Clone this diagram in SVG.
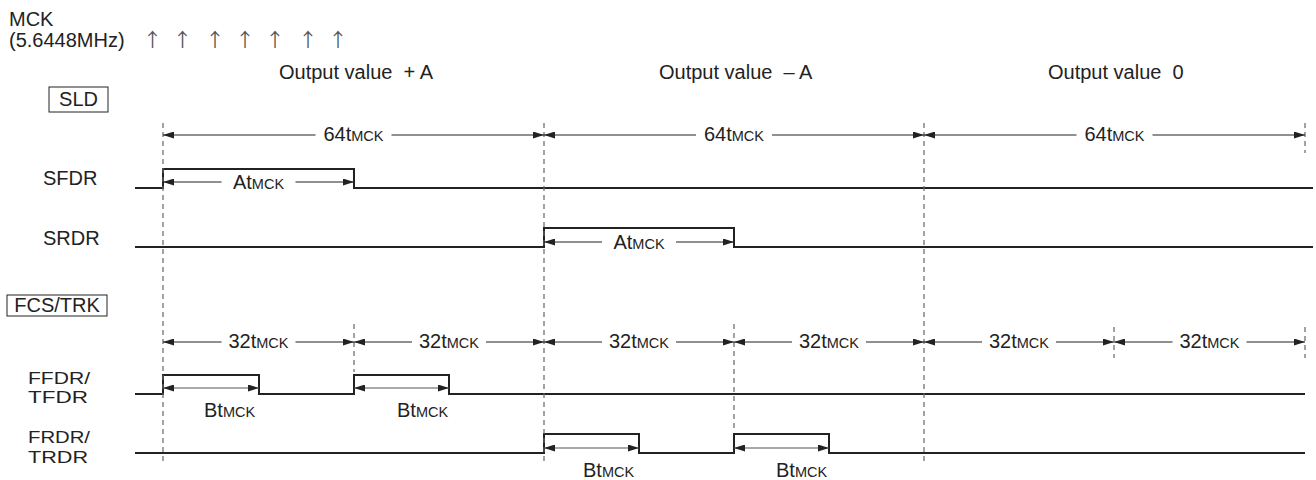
<svg xmlns="http://www.w3.org/2000/svg" width="1316" height="480" viewBox="0 0 1316 480">
<style>
text{font-family:"Liberation Sans",Arial,sans-serif;font-size:20px;fill:#222}
.s{font-size:14.5px}
.m{text-anchor:middle}
.lb{font-size:16.5px}
.up{font-family:"Noto Sans CJK JP","DejaVu Sans",sans-serif;font-size:19px;fill:#555;text-anchor:middle}
.sig{fill:none;stroke:#222;stroke-width:2}
.dash{stroke:#666;stroke-width:1.2;stroke-dasharray:5,4}
.dim{stroke:#222;stroke-width:1.1;marker-end:url(#ah)}
.bt{stroke:#555;stroke-width:1.1;marker-end:url(#ah);marker-start:url(#ah)}
.box{fill:none;stroke:#222;stroke-width:1}
</style>
<defs>
<marker id="ah" markerUnits="userSpaceOnUse" markerWidth="11" markerHeight="7" refX="11" refY="3.5" orient="auto-start-reverse">
<path d="M0,0 L11,3.5 L0,7 z" fill="#222"/>
</marker>
</defs>
<rect width="1316" height="480" fill="#fff"/>

<g id="mck">
<text x="9" y="26">MCK</text>
<text x="9" y="47">(5.6448MHz)</text>
<text class="up" x="152.5" y="47">↑</text>
<text class="up" x="182.5" y="47">↑</text>
<text class="up" x="215" y="47">↑</text>
<text class="up" x="245" y="47">↑</text>
<text class="up" x="275" y="47">↑</text>
<text class="up" x="308" y="47">↑</text>
<text class="up" x="338" y="47">↑</text>
</g>

<g id="headers">
<text x="279" y="79" xml:space="preserve">Output value  + A</text>
<text x="659" y="79" xml:space="preserve">Output value  – A</text>
<text x="1048" y="79" xml:space="preserve">Output value  0</text>
</g>

<g id="sld">
<rect class="box" x="49" y="87" width="59" height="25"/>
<text class="m" x="78.5" y="106">SLD</text>
</g>

<g id="fcstrk">
<rect class="box" x="7" y="295" width="100" height="21"/>
<text class="m" x="57" y="312">FCS/TRK</text>
</g>

<g id="sfdr">
<text x="43" y="185">SFDR</text>
<path class="sig" d="M135,188 H163 V169 H354 V188 H1313"/>
</g>

<g id="srdr">
<text x="43" y="245">SRDR</text>
<path class="sig" d="M135,247 H544 V228 H734 V247 H1313"/>
</g>

<g id="ffdr">
<text class="lb" x="28" y="384" textLength="62" lengthAdjust="spacingAndGlyphs">FFDR/</text>
<text class="lb" x="28" y="403" textLength="60" lengthAdjust="spacingAndGlyphs">TFDR</text>
<path class="sig" d="M135,394 H163 V375 H259 V394 H354 V375 H449 V394 H1305"/>
</g>

<g id="frdr">
<text class="lb" x="28" y="443" textLength="62" lengthAdjust="spacingAndGlyphs">FRDR/</text>
<text class="lb" x="28" y="463" textLength="60" lengthAdjust="spacingAndGlyphs">TRDR</text>
<path class="sig" d="M135,453 H544 V434 H639 V453 H734 V434 H829 V453 H1305"/>
</g>

<g id="connectors">
<line class="dash" x1="163" y1="123" x2="163" y2="465"/>
<line class="dash" x1="544" y1="123" x2="544" y2="465"/>
<line class="dash" x1="924" y1="123" x2="924" y2="465"/>
<line class="dash" x1="1305" y1="123" x2="1305" y2="153"/>
<line class="dash" x1="1305" y1="327" x2="1305" y2="358"/>
<line class="dash" x1="354" y1="324" x2="354" y2="372"/>
<line class="dash" x1="734" y1="324" x2="734" y2="432"/>
<line class="dash" x1="1114" y1="327" x2="1114" y2="358"/>

<line class="dim" x1="315.5" y1="135" x2="163" y2="135"/>
<line class="dim" x1="391.5" y1="135" x2="544" y2="135"/>
<line class="dim" x1="696" y1="135" x2="544" y2="135"/>
<line class="dim" x1="772" y1="135" x2="924" y2="135"/>
<line class="dim" x1="1076.5" y1="135" x2="924" y2="135"/>
<line class="dim" x1="1152.5" y1="135" x2="1305" y2="135"/>

<line class="dim" x1="221.5" y1="342" x2="163" y2="342"/>
<line class="dim" x1="295.5" y1="342" x2="354" y2="342"/>
<line class="dim" x1="412" y1="342" x2="354" y2="342"/>
<line class="dim" x1="486" y1="342" x2="544" y2="342"/>
<line class="dim" x1="602" y1="342" x2="544" y2="342"/>
<line class="dim" x1="676" y1="342" x2="734" y2="342"/>
<line class="dim" x1="792" y1="342" x2="734" y2="342"/>
<line class="dim" x1="866" y1="342" x2="924" y2="342"/>
<line class="dim" x1="982" y1="342" x2="924" y2="342"/>
<line class="dim" x1="1056" y1="342" x2="1114" y2="342"/>
<line class="dim" x1="1172.5" y1="342" x2="1114" y2="342"/>
<line class="dim" x1="1246.5" y1="342" x2="1305" y2="342"/>

<line class="dim" x1="221.5" y1="182" x2="163" y2="182"/>
<line class="dim" x1="295.5" y1="182" x2="354" y2="182"/>
<line class="dim" x1="602" y1="242" x2="544" y2="242"/>
<line class="dim" x1="676" y1="242" x2="734" y2="242"/>

<line class="bt" x1="163" y1="388" x2="259" y2="388"/>
<line class="bt" x1="354" y1="388" x2="449" y2="388"/>
<line class="bt" x1="544" y1="448" x2="639" y2="448"/>
<line class="bt" x1="734" y1="448" x2="829" y2="448"/>
</g>

<g id="dim-labels">
<text class="m" x="353.5" y="141">64t<tspan class="s">MCK</tspan></text>
<text class="m" x="734" y="141">64t<tspan class="s">MCK</tspan></text>
<text class="m" x="1114.5" y="141">64t<tspan class="s">MCK</tspan></text>

<text class="m" x="258.5" y="348">32t<tspan class="s">MCK</tspan></text>
<text class="m" x="449" y="348">32t<tspan class="s">MCK</tspan></text>
<text class="m" x="639" y="348">32t<tspan class="s">MCK</tspan></text>
<text class="m" x="829" y="348">32t<tspan class="s">MCK</tspan></text>
<text class="m" x="1019" y="348">32t<tspan class="s">MCK</tspan></text>
<text class="m" x="1209.5" y="348">32t<tspan class="s">MCK</tspan></text>

<text class="m" x="258.5" y="189">At<tspan class="s">MCK</tspan></text>
<text class="m" x="639" y="249">At<tspan class="s">MCK</tspan></text>

<text x="204" y="417">Bt<tspan class="s">MCK</tspan></text>
<text x="397" y="417">Bt<tspan class="s">MCK</tspan></text>
<text x="583" y="477">Bt<tspan class="s">MCK</tspan></text>
<text x="776" y="477">Bt<tspan class="s">MCK</tspan></text>
</g>
</svg>
